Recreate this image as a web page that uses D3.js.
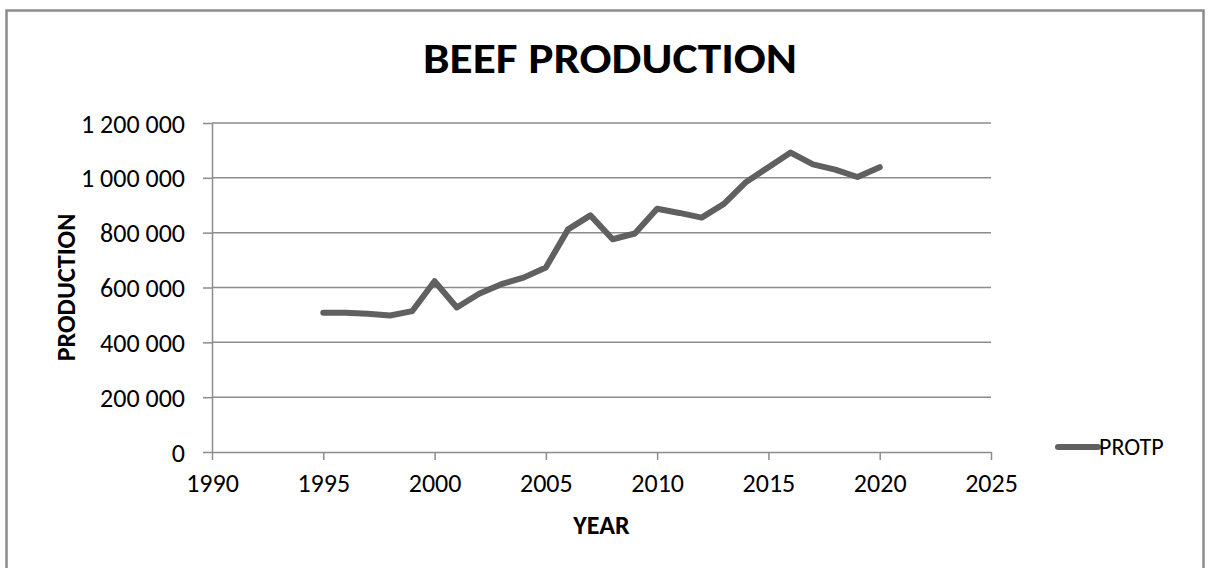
<!DOCTYPE html>
<html>
<head>
<meta charset="utf-8">
<script src="https://cdn.jsdelivr.net/npm/d3@7"></script>
<style>
  html, body { margin: 0; padding: 0; background: #fff; }
  svg { display: block; font-family: Carlito, Lato, sans-serif; }
  .grid line { stroke: #8c8c8c; stroke-width: 1.5; }
  .axis path, .axis line { stroke: #8c8c8c; stroke-width: 1.5; }
  .axis text { fill: #000; font-size: 26px; font-family: Carlito, Lato, sans-serif; }
</style>
</head>
<body>
<svg id="chart"></svg>
<script>
'use strict';

const years = [1995, 1996, 1997, 1998, 1999, 2000, 2001, 2002, 2003, 2004, 2005, 2006, 2007,
  2008, 2009, 2010, 2011, 2012, 2013, 2014, 2015, 2016, 2017, 2018, 2019, 2020];
const protp = [508000, 508000, 504000, 498000, 514000, 623000, 527000, 577000, 612000, 636000,
  673000, 812000, 863000, 776000, 797000, 887000, 872000, 855000, 905000, 985000,
  1039000, 1092000, 1049000, 1030000, 1003000, 1039000];
const xTicks = [1990, 1995, 2000, 2005, 2010, 2015, 2020, 2025];
const yTicks = [0, 200000, 400000, 600000, 800000, 1000000, 1200000];
const seriesName = 'PROTP';

const W = 1210, H = 568;
const margin = { left: 212, right: 219, top: 123, bottom: 116 };
const width = W - margin.left - margin.right;
const height = H - margin.top - margin.bottom;

const svg = d3.select('#chart').attr('width', W).attr('height', H);

// outer chart frame
svg.append('rect')
    .attr('x', 6.5).attr('y', 10.5)
    .attr('width', 1197).attr('height', 600)
    .attr('fill', 'none')
    .attr('stroke', '#8c8c8c')
    .attr('stroke-width', 2.5);

svg.append('text')
    .attr('x', 610).attr('y', 73)
    .attr('text-anchor', 'middle')
    .attr('font-size', 42)
    .attr('font-weight', 'bold')
    .attr('textLength', 374)
    .attr('lengthAdjust', 'spacingAndGlyphs')
    .text('BEEF PRODUCTION');

const graph = svg.append('g')
    .attr('transform', `translate(${margin.left}, ${margin.top})`);

const x = d3.scaleLinear().domain([1990, 2025]).range([0, width]);
const y = d3.scaleLinear().domain([0, 1200000]).range([height, 0]);

const fmt = d3.formatLocale({ decimal: ',', thousands: ' ', grouping: [3], currency: ['', ''] }).format(',d');

graph.append('g')
    .attr('class', 'grid')
  .selectAll('line')
  .data(yTicks.slice(1))
  .join('line')
    .attr('x1', 0).attr('x2', width)
    .attr('y1', d => y(d)).attr('y2', d => y(d));

const yAxis = graph.append('g')
    .attr('class', 'axis')
    .call(d3.axisLeft(y).tickValues(yTicks).tickFormat(fmt).tickSize(9).tickSizeOuter(0).tickPadding(18));
yAxis.selectAll('text').attr('dy', '0.35em');

const xAxis = graph.append('g')
    .attr('class', 'axis')
    .attr('transform', `translate(0, ${height})`)
    .call(d3.axisBottom(x).tickValues(xTicks).tickFormat(d3.format('d')).tickSize(8).tickSizeOuter(0).tickPadding(14));

graph.append('text')
    .attr('transform', `translate(-146, ${height / 2}) rotate(-90)`)
    .attr('text-anchor', 'middle')
    .attr('dy', '0.35em')
    .attr('font-size', 26)
    .attr('font-weight', 'bold')
    .text('PRODUCTION');

graph.append('text')
    .attr('x', 389.5).attr('y', 411)
    .attr('text-anchor', 'middle')
    .attr('font-size', 26)
    .attr('font-weight', 'bold')
    .text('YEAR');

const line = d3.line()
    .x((d, i) => x(years[i]))
    .y(d => y(d));

graph.append('path')
    .datum(protp)
    .attr('fill', 'none')
    .attr('stroke', '#606060')
    .attr('stroke-width', 6)
    .attr('stroke-linejoin', 'round')
    .attr('stroke-linecap', 'round')
    .attr('d', line);

// legend
const legend = svg.append('g').attr('transform', 'translate(1058, 447)');
legend.append('line')
    .attr('x1', 0).attr('x2', 40)
    .attr('stroke', '#606060')
    .attr('stroke-width', 6)
    .attr('stroke-linecap', 'round');
legend.append('text')
    .attr('x', 41).attr('dy', '0.35em')
    .attr('font-size', 24)
    .text(seriesName);
</script>
</body>
</html>
